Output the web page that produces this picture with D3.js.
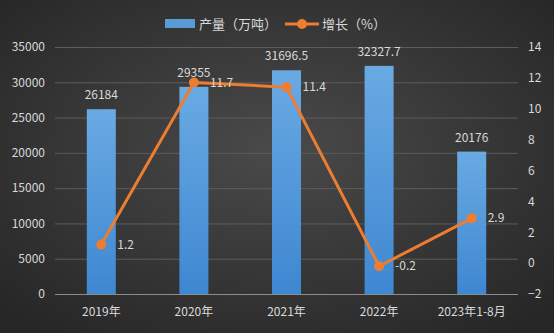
<!DOCTYPE html>
<html>
<head>
	<meta http-equiv="Content-Type" content="text/html;charset=UTF-8">
	<title>产量与增长</title>
	<style>
		body { margin: 0; background: #2b2b2b; }
		svg text { font-family: "Noto Sans CJK SC", "Open Sans", sans-serif; fill: #d9d9d9; }
	</style>
</head>
<body>

	<div class="chart"></div>

	<script src="https://d3js.org/d3.v7.min.js"></script>
	<script type="text/javascript">

		var categories = ["2019年", "2020年", "2021年", "2022年", "2023年1-8月"];
		var output = [26184, 29355, 31696.5, 32327.7, 20176];
		var growth = [1.2, 11.7, 11.4, -0.2, 2.9];
		var leftTicks = [0, 5000, 10000, 15000, 20000, 25000, 30000, 35000];
		var rightTicks = [-2, 0, 2, 4, 6, 8, 10, 12, 14];

		var w = 554, h = 333;
		var pLeft = 55, pRight = 518, pTop = 47, pBottom = 294;

		var SVG = d3.select("div.chart").append("svg")
					.attr("width", w)
					.attr("height", h);

		// background
		var defs = SVG.append("defs");
		var bg = defs.append("radialGradient").attr("id", "bg")
					.attr("cx", "50%").attr("cy", "45%").attr("r", "70%");
		bg.append("stop").attr("offset", "0%").attr("stop-color", "#4a4a4a");
		bg.append("stop").attr("offset", "100%").attr("stop-color", "#262626");
		var barGrad = defs.append("linearGradient").attr("id", "bar")
					.attr("x1", 0).attr("y1", 0).attr("x2", 0).attr("y2", 1);
		barGrad.append("stop").attr("offset", "0%").attr("stop-color", "#6aaae3");
		barGrad.append("stop").attr("offset", "100%").attr("stop-color", "#3e87d1");

		SVG.append("rect").attr("width", w).attr("height", h).attr("fill", "url(#bg)");

		var x = d3.scaleBand().domain(categories).range([pLeft, pRight]);
		var yL = d3.scaleLinear().domain([0, 35000]).range([pBottom, pTop]);
		var yR = d3.scaleLinear().domain([-2, 14]).range([pBottom, pTop]);

		// grid lines
		SVG.append("g").selectAll("line").data(leftTicks.slice(1)).enter().append("line")
			.attr("x1", pLeft).attr("x2", pRight)
			.attr("y1", function(d){ return yL(d) + 0.5; }).attr("y2", function(d){ return yL(d) + 0.5; })
			.attr("stroke", "#5c5c5c").attr("stroke-width", 1);

		// axes
		var axL = SVG.append("g").attr("transform", "translate(" + (pLeft - 6) + ",0)")
			.call(d3.axisLeft(yL).tickValues(leftTicks).tickSize(0).tickPadding(4).tickFormat(d3.format("d")));
		axL.select(".domain").remove();
		axL.selectAll("text").attr("font-size", 12).attr("fill", "#d9d9d9");

		var axR = SVG.append("g").attr("transform", "translate(" + (pRight + 8) + ",0)")
			.call(d3.axisRight(yR).tickValues(rightTicks).tickSize(0).tickPadding(2));
		axR.select(".domain").remove();
		axR.selectAll("text").attr("font-size", 12).attr("fill", "#d9d9d9");

		// bars
		var barW = 29;
		SVG.append("g").selectAll("rect").data(output).enter().append("rect")
			.attr("x", function(d, i){ return x(categories[i]) + x.bandwidth() / 2 - barW / 2; })
			.attr("y", function(d){ return yL(d); })
			.attr("width", barW)
			.attr("height", function(d){ return pBottom - yL(d); })
			.attr("fill", "url(#bar)");

		// x axis line
		SVG.append("line").attr("x1", pLeft).attr("x2", pRight)
			.attr("y1", pBottom + 0.5).attr("y2", pBottom + 0.5)
			.attr("stroke", "#8c8c8c").attr("stroke-width", 1);

		var axX = SVG.append("g").attr("transform", "translate(0," + pBottom + ")")
			.call(d3.axisBottom(x).tickSize(0).tickPadding(13));
		axX.select(".domain").remove();
		axX.selectAll("text").attr("font-size", 12).attr("fill", "#d9d9d9");

		// bar labels
		SVG.append("g").selectAll("text").data(output).enter().append("text")
			.attr("x", function(d, i){ return x(categories[i]) + x.bandwidth() / 2; })
			.attr("y", function(d){ return yL(d) - 10; })
			.attr("text-anchor", "middle")
			.attr("font-size", 12)
			.text(function(d){ return d; });

		// line
		var cx = function(d, i){ return x(categories[i]) + x.bandwidth() / 2; };
		var line = d3.line().x(cx).y(function(d){ return yR(d); });
		SVG.append("path").datum(growth)
			.attr("d", line)
			.attr("fill", "none")
			.attr("stroke", "#ed7d31")
			.attr("stroke-width", 3)
			.attr("stroke-linejoin", "round");

		SVG.append("g").selectAll("circle").data(growth).enter().append("circle")
			.attr("cx", cx)
			.attr("cy", function(d){ return yR(d); })
			.attr("r", 5)
			.attr("fill", "#ed7d31");

		SVG.append("g").selectAll("text").data(growth).enter().append("text")
			.attr("x", function(d, i){ return cx(d, i) + 16; })
			.attr("y", function(d){ return yR(d) + 4; })
			.attr("font-size", 12)
			.text(function(d){ return d; });

		// legend
		var lg = SVG.append("g");
		lg.append("rect").attr("x", 165).attr("y", 19).attr("width", 30).attr("height", 9)
			.attr("fill", "#5b9bd5");
		lg.append("text").attr("x", 199).attr("y", 29).attr("font-size", 13).text("产量（万吨）");
		lg.append("line").attr("x1", 285).attr("x2", 319).attr("y1", 24).attr("y2", 24)
			.attr("stroke", "#ed7d31").attr("stroke-width", 3);
		lg.append("circle").attr("cx", 302).attr("cy", 24).attr("r", 5).attr("fill", "#ed7d31");
		lg.append("text").attr("x", 322).attr("y", 29).attr("font-size", 13).text("增长（%）");
	</script>
</body>
</html>
